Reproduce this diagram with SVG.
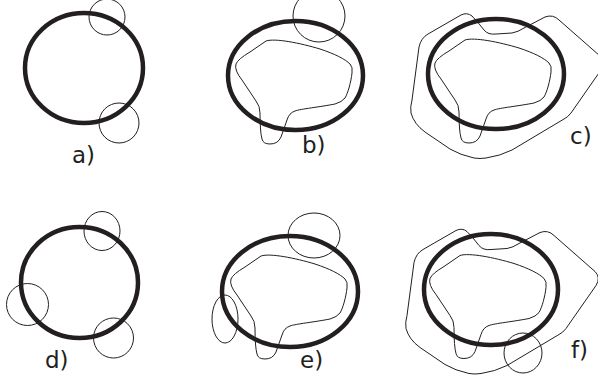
<svg xmlns="http://www.w3.org/2000/svg" width="598" height="381" viewBox="0 0 598 381">
<style>
.thick{fill:none;stroke:#231f20;stroke-width:4.5}
.thin{fill:none;stroke:#231f20;stroke-width:1}
.lbl{font-family:"DejaVu Sans","Liberation Sans",sans-serif;font-size:23px;fill:#231f20}
</style>
<defs>
<path id="inner" d="M 266,41 C 275,38 300,43 320,49 C 335,54 345,59 350,64 Q 353,67 352,73 C 351,82 348,93 345,98 Q 342,102 335,104 C 320,107 300,109 295,111 Q 289,113 287,120 L 281,137 Q 278,144 270,144 Q 263,144 262,139 Q 260,132 260,113 Q 260,106 256,101 L 242,80 Q 234,70 236,64 Q 238,59 250,52 Z"/>
<path id="outer" d="M 461,15 Q 467,12 472,16 Q 478,22 484,30 Q 488,35 496,34 L 512,33 Q 518,32 524,28 L 545,17 Q 553,14 559,20 L 600,56 Q 606,62 601,70 L 571,113 Q 568,117 564,119 L 512,150 Q 500,156 486,158 Q 480,159 474,158 Q 460,155 450,149 L 425,132 Q 414,124 411,113 Q 410,107 412,100 L 419,47 Q 421,38 428,34 Z"/>
</defs>
<g id="panel-a">
<ellipse class="thick" cx="84" cy="68" rx="59" ry="55"/>
<circle class="thin" cx="107" cy="17" r="18"/>
<circle class="thin" cx="119" cy="123" r="20"/>
<text class="lbl" x="72" y="163">a)</text>
</g>
<g id="panel-b">
<use href="#inner" class="thin"/>
<ellipse class="thick" cx="295.5" cy="75.5" rx="67.5" ry="54.5"/>
<ellipse class="thin" cx="319" cy="16" rx="26" ry="26"/>
<text class="lbl" x="302" y="153">b)</text>
</g>
<g id="panel-c">
<use href="#inner" class="thin" transform="translate(199,-1)"/>
<use href="#outer" class="thin"/>
<ellipse class="thick" cx="496" cy="74" rx="68" ry="55"/>
<text class="lbl" x="570" y="144">c)</text>
</g>
<g id="panel-d">
<ellipse class="thick" cx="79.5" cy="282.5" rx="58.5" ry="55.5"/>
<ellipse class="thin" cx="102" cy="231" rx="18" ry="19.5"/>
<circle class="thin" cx="27.5" cy="304.5" r="21"/>
<circle class="thin" cx="113.5" cy="338" r="20"/>
<text class="lbl" x="45" y="368">d)</text>
</g>
<g id="panel-e">
<use href="#inner" class="thin" transform="translate(-5,215)"/>
<ellipse class="thick" cx="290" cy="291.5" rx="68" ry="55.5"/>
<ellipse class="thin" cx="314" cy="235.5" rx="26" ry="22.5"/>
<ellipse class="thin" cx="225" cy="319" rx="13" ry="24"/>
<text class="lbl" x="300" y="368">e)</text>
</g>
<g id="panel-f">
<use href="#inner" class="thin" transform="translate(194,214.5)"/>
<use href="#outer" class="thin" transform="translate(-5,215.5)"/>
<ellipse class="thick" cx="491" cy="289.5" rx="67" ry="55.5"/>
<ellipse class="thin" cx="523" cy="353" rx="19" ry="20"/>
<text class="lbl" x="571" y="358">f)</text>
</g>
</svg>
